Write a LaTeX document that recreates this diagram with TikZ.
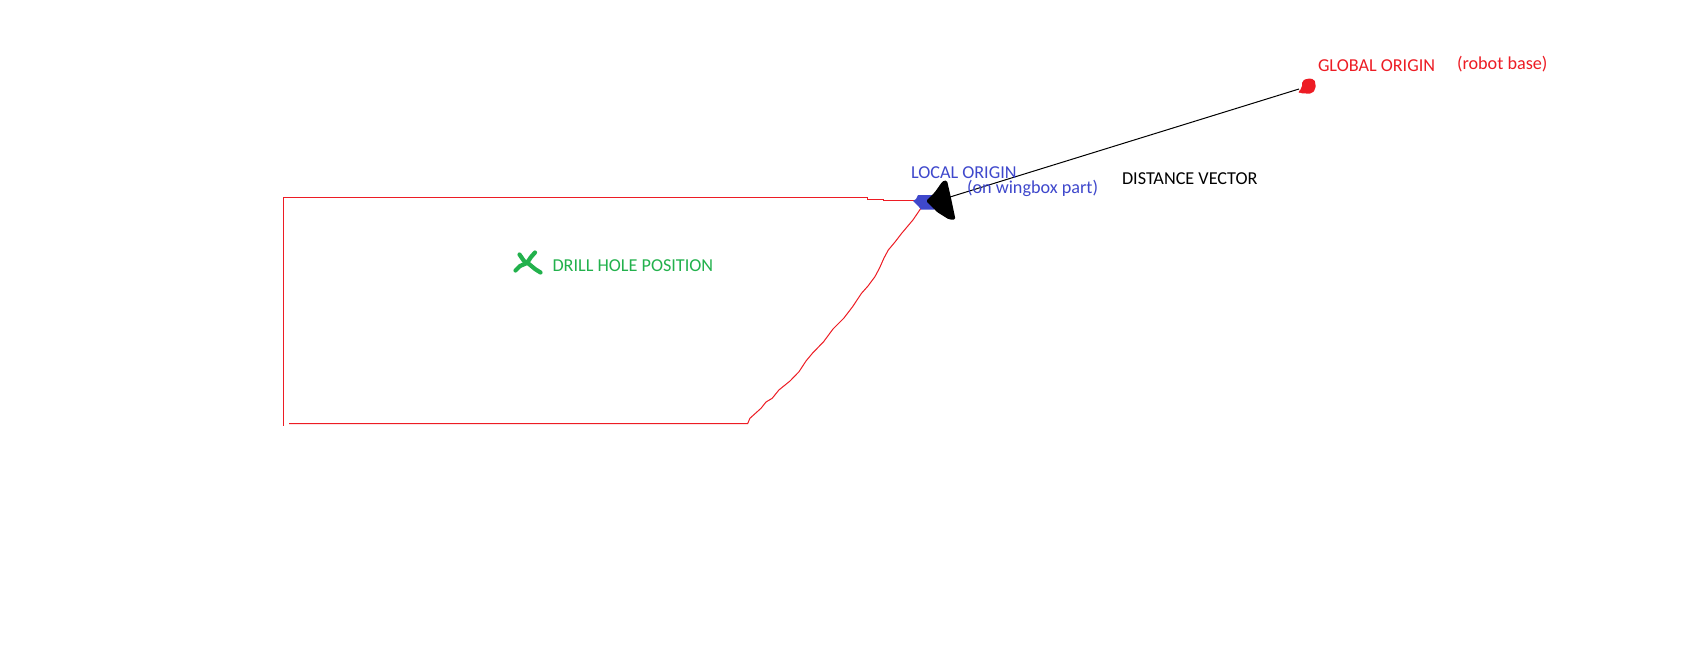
\documentclass[tikz,border=0pt]{standalone}
\usepackage{fontspec}
\setmainfont{Carlito}
\definecolor{pred}{HTML}{ED1C24}
\definecolor{pblue}{HTML}{3F48CC}
\definecolor{pgreen}{HTML}{22B14C}
\tikzset{
  lbl/.style={inner sep=0pt,outer sep=0pt,anchor=base west,font=\fontsize{18.2}{20}\selectfont},
  outline/.style={draw=pred,line width=1pt},
  cross/.style={draw=pgreen,line width=4.2pt,line cap=round,line join=round},
}
\begin{document}
\begin{tikzpicture}[x=1pt,y=-1pt]
\useasboundingbox[fill=white] (0,0) rectangle (1687,669);
% part outline
\draw[outline] (283.5,197.3) -- (283.5,425.7);
\draw[outline] (284,197.3) -- (867,197.3) -- (867,199.3) -- (883,199.3) -- (883,200.7) -- (914,200.7);
\draw[outline] (289,423.5) -- (747.7,423.5) -- (749.9,418.3) -- (761,408.3) -- (766,402) -- (772.2,398.3) -- (778.9,390) -- (790,381) -- (799,371.7) -- (806,361) -- (812.4,353.3) -- (823.6,341.7) -- (833,329) -- (843.7,318.3) -- (852.6,306.7) -- (861.5,293.3) -- (868,286) -- (874.9,276.7) -- (879.4,268.3) -- (884,258) -- (888.3,250) -- (895,242) -- (901.7,233.3) -- (912.9,220) -- (920.9,208.3);
% local origin marks
\fill[pblue] (913,201) -- (916,199) -- (918,195) -- (934,195) -- (934,209.5) -- (921,209.5) -- (919,207) -- cycle;
\fill[black,rounded corners=1.5pt] (942,182) -- (944,180.5) -- (947,180.5) -- (951,198) -- (955.5,219.5) -- (949,219.5) -- (937,212) -- (926,201) -- (935,192) -- cycle;
% global origin mark
\fill[pred,rounded corners=2pt] (1298,92) -- (1302,88) -- (1302,81) -- (1307,78.5) -- (1314,79) -- (1315.5,83) -- (1315.5,89) -- (1312,93.5) -- (1304,93.5) -- (1300,93) -- cycle;
% distance vector
\coordinate (localpt) at (950,197);
\coordinate (globalpt) at (1299,89);
\draw[black,line width=1pt] (localpt) -- (globalpt);
% drill hole cross
\draw[cross] (515.5,270.5) -- (520,266) -- (527,263) -- (531,257) -- (535,252.5);
\draw[cross] (519.5,254.5) -- (524,261) -- (529,264) -- (535,269) -- (540.5,272.5);
% labels
\node[lbl,text=pred] (global) at (1318,71.3) {GLOBAL ORIGIN};
\node[lbl,text=pred] (robot) at (1457,69.3) {(robot base)};
\node[lbl,text=pblue] (local) at (911,178) {LOCAL ORIGIN};
\node[lbl,text=pblue] (wing) at (967,193) {(on wingbox part)};
\node[lbl,text=black] (dist) at (1122,184.6) {DISTANCE VECTOR};
\node[lbl,text=pgreen] (drill) at (552.5,271.3) {DRILL HOLE POSITION};
\end{tikzpicture}
\end{document}
